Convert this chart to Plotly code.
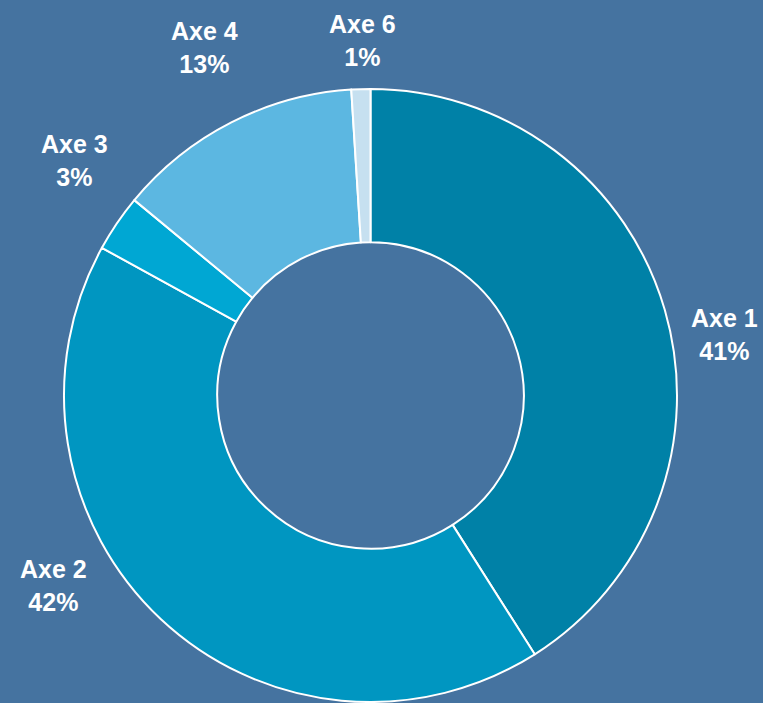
import plotly.graph_objects as go

labels = ["Axe 1", "Axe 2", "Axe 3", "Axe 4", "Axe 6"]
values = [41, 42, 3, 13, 1]
colors = ["#0081A7", "#0096C1", "#00A7D3", "#5CB7E1", "#C6E0F0"]

# label anchor positions in pixels (x, y from top)
label_pos = [(724, 334), (53, 585), (74, 160), (204, 47), (362, 41)]

W, H = 763, 703
BG = "#4573A0"

fig = go.Figure()
fig.add_trace(go.Pie(
    labels=labels,
    values=values,
    marker=dict(colors=colors, line=dict(color="white", width=2)),
    hole=0.5,
    sort=False,
    direction="clockwise",
    rotation=0,
    textinfo="none",
    hoverinfo="label+percent",
    showlegend=False,
    domain=dict(x=[64 / W, 677 / W], y=[1 / H, 614 / H]),
))

total = sum(values)
for lab, v, (px, py) in zip(labels, values, label_pos):
    fig.add_annotation(
        x=px / W, y=1 - py / H, xref="paper", yref="paper",
        text=f"<b>{lab}<br>{round(v / total * 100)}%</b>",
        showarrow=False, xanchor="center", yanchor="middle",
        font=dict(family="Liberation Sans, Arial, sans-serif", size=25, color="white"),
        align="center",
    )

fig.update_layout(
    width=W, height=H,
    margin=dict(l=0, r=0, t=0, b=0),
    paper_bgcolor=BG, plot_bgcolor=BG,
)
fig.write_html("out.html")
